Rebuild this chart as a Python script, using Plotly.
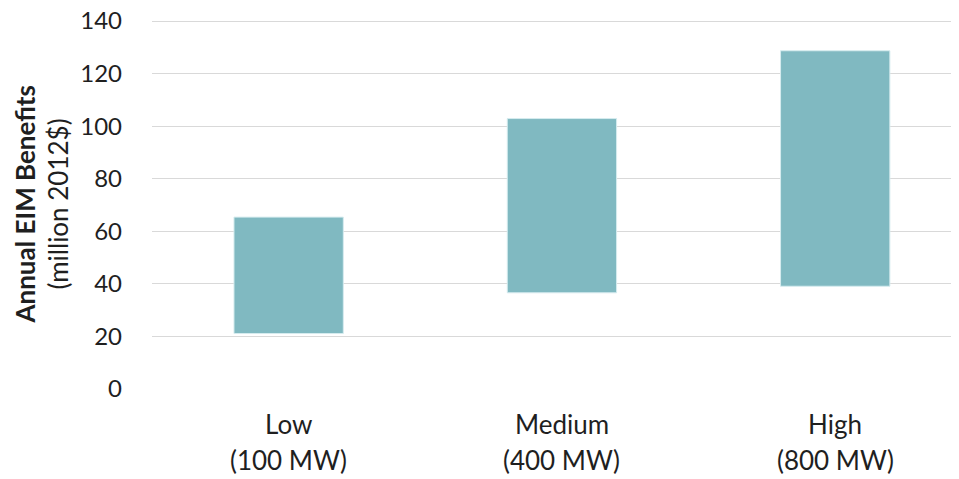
import plotly.graph_objects as go

cat_line1 = ["Low", "Medium", "High"]
cat_line2 = ["(100 MW)", "(400 MW)", "(800 MW)"]
low_values = [21.1, 36.6, 39.1]
high_values = [65.4, 102.9, 128.7]
y_ticks = [0, 20, 40, 60, 80, 100, 120, 140]

heights = [h - l for h, l in zip(high_values, low_values)]
xpos = list(range(len(cat_line1)))

FONT = "Lato"
TXT = "#1f1f1f"

fig = go.Figure()
fig.add_trace(go.Bar(
    x=xpos,
    y=heights,
    base=low_values,
    width=0.4,
    marker=dict(color="#80b9c1", line=dict(color="#d6ecef", width=1)),
    hoverinfo="skip",
))

annotations = [
    dict(text="<b>Annual EIM Benefits</b>", xref="paper", yref="paper",
         x=0, y=0.5, xanchor="center", yanchor="middle", xshift=-128,
         textangle=-90, showarrow=False,
         font=dict(family=FONT, size=26, color=TXT)),
    dict(text="(million 2012$)", xref="paper", yref="paper",
         x=0, y=0.5, xanchor="center", yanchor="middle", xshift=-95,
         textangle=-90, showarrow=False,
         font=dict(family=FONT, size=26, color=TXT)),
]
for i, (a, b) in enumerate(zip(cat_line1, cat_line2)):
    annotations.append(dict(text=a, xref="x", yref="paper", x=xpos[i], y=0,
                            xanchor="center", yanchor="middle", yshift=-35,
                            showarrow=False, font=dict(family=FONT, size=26, color=TXT)))
    annotations.append(dict(text=b, xref="x", yref="paper", x=xpos[i], y=0,
                            xanchor="center", yanchor="middle", yshift=-71,
                            showarrow=False, font=dict(family=FONT, size=26, color=TXT)))

fig.update_layout(
    width=959, height=479,
    margin=dict(l=144, r=8, t=12, b=98),
    paper_bgcolor="white", plot_bgcolor="white",
    showlegend=False,
    font=dict(family=FONT, color=TXT, size=22),
    xaxis=dict(
        range=[-0.5, 2.453], automargin=False,
        showticklabels=False,
        showgrid=False, zeroline=False, showline=False, ticks="",
    ),
    yaxis=dict(
        range=[0, 140.4], automargin=False,
        tickmode="array", tickvals=y_ticks,
        showgrid=True, gridcolor="#d9d9d9", gridwidth=1,
        zeroline=False, showline=False, ticks="",
        ticklabelstandoff=29, ticklabeloverflow="allow",
        tickfont=dict(family=FONT, size=24, color=TXT),
    ),
    annotations=annotations,
)

fig.write_html("out.html")
